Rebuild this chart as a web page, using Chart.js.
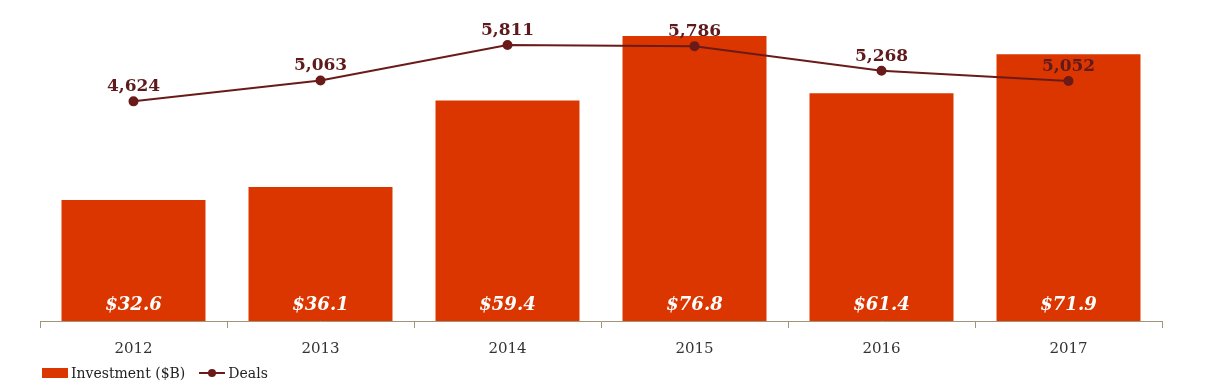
<!DOCTYPE html>
<html><head><meta charset="utf-8">
<script src="https://cdn.jsdelivr.net/npm/chart.js@4.4.0/dist/chart.umd.min.js"></script>
<style>
html,body{margin:0;padding:0;background:#fff;}
#wrap{position:relative;width:1206px;height:392px;}
#legend{position:absolute;left:42px;top:365px;font-family:"DejaVu Serif",serif;font-size:14px;color:#222;display:flex;align-items:center;}
.sw{display:inline-block;width:26px;height:10px;background:#dc3600;margin-right:3px;}
.ln{display:inline-block;position:relative;width:26px;height:2px;background:#6b1a1a;margin:0 3px 0 14px;}
.ln:after{content:"";position:absolute;left:9px;top:-3px;width:8px;height:8px;border-radius:50%;background:#6b1a1a;}
</style></head>
<body><div id="wrap"><canvas id="c" width="1206" height="392"></canvas>
<div id="legend"><span class="sw"></span><span>Investment ($B)</span><span class="ln"></span><span>Deals</span></div></div>
<script>
const years = ["2012","2013","2014","2015","2016","2017"];
const investment = [32.6, 36.1, 59.4, 76.8, 61.4, 71.9];
const deals = [4624, 5063, 5811, 5786, 5268, 5052];
const investmentLabels = ["$32.6","$36.1","$59.4","$76.8","$61.4","$71.9"];
const dealLabels = ["4,624","5,063","5,811","5,786","5,268","5,052"];

const labelPlugin = {
  id:'labels',
  afterDatasetsDraw(chart){
    const ctx = chart.ctx;
    ctx.save();
    const barMeta = chart.getDatasetMeta(1);
    ctx.font = 'italic bold 18px "DejaVu Serif", serif';
    ctx.fillStyle = '#ffffff';
    ctx.textAlign = 'center';
    ctx.textBaseline = 'middle';
    barMeta.data.forEach((b,i)=>{ ctx.fillText(investmentLabels[i], b.x, chart.chartArea.bottom - 16); });
    const lineMeta = chart.getDatasetMeta(0);
    ctx.font = 'bold 17px "DejaVu Serif", serif';
    ctx.fillStyle = '#5e1a1c';
    ctx.textBaseline = 'alphabetic';
    lineMeta.data.forEach((p,i)=>{ ctx.fillText(dealLabels[i], p.x, p.y - 10); });
    ctx.restore();
  }
};

new Chart(document.getElementById('c'), {
  data:{
    labels: years,
    datasets:[
      {type:'line', label:'Deals', data:deals, yAxisID:'y2', borderColor:'#6b1a1a', backgroundColor:'#6b1a1a', borderWidth:2, pointRadius:4, pointHoverRadius:4, tension:0, order:0},
      {type:'bar', label:'Investment ($B)', data:investment, yAxisID:'y', backgroundColor:'#dc3600', categoryPercentage:1, barPercentage:0.77, order:1}
    ]
  },
  options:{
    responsive:false, animation:false,
    layout:{padding:{left:40,right:44,top:10,bottom:22}},
    plugins:{legend:{display:false}, tooltip:{enabled:false}},
    scales:{
      x:{offset:true, grid:{offset:true, drawOnChartArea:false, drawTicks:true, tickLength:7, color:'#a0957a'},
         border:{color:'#a0957a', width:1},
         ticks:{padding:12, color:'#333', font:{family:'"DejaVu Serif", serif', size:15}}},
      y:{display:false, min:0, max:83.8},
      y2:{display:false, min:0, max:6547, position:'right'}
    }
  },
  plugins:[labelPlugin]
});
</script></body></html>
